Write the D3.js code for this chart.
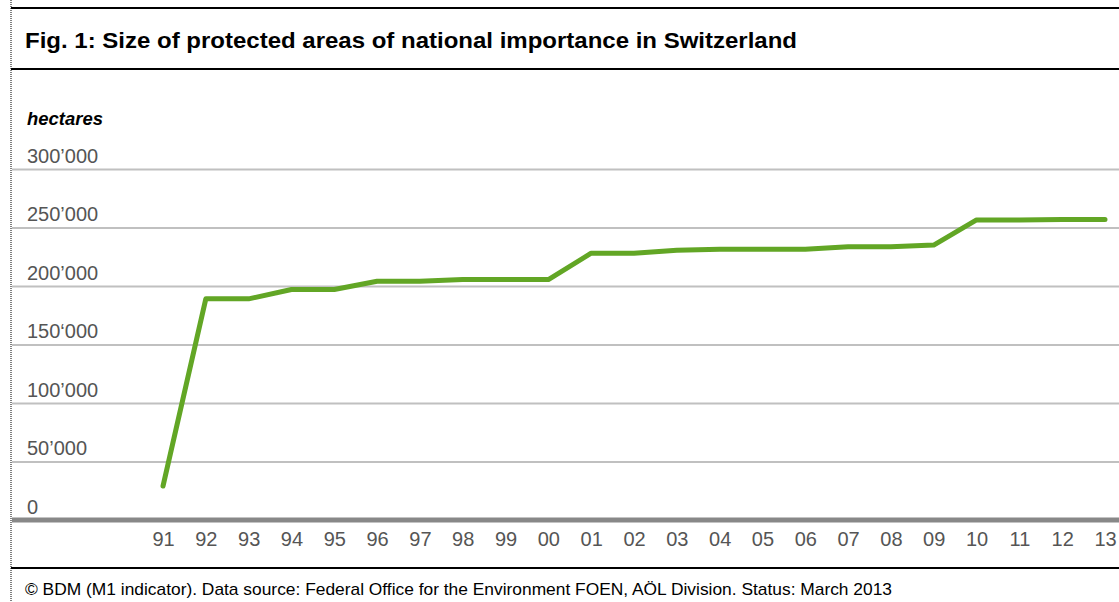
<!DOCTYPE html>
<html><head><meta charset="utf-8">
<script src="https://cdn.jsdelivr.net/npm/d3@7"></script>
<style>body{margin:0;background:#fff;}svg{display:block;font-family:"Liberation Sans",Arial,sans-serif;}</style>
</head><body>
<svg id="c" width="1119" height="602"></svg>
<script>
const years = ["91","92","93","94","95","96","97","98","99","00","01","02","03","04","05","06","07","08","09","10","11","12","13"];
const hectares = [29000,189000,189000,197000,197000,204000,204000,205500,205500,205500,228000,228000,230500,231500,231500,231500,233500,233500,235000,256500,256500,256800,256800];
const yTicks = [0,50000,100000,150000,200000,250000,300000];
const yTickLabels = ["0","50’000","100’000","150‘000","200’000","250’000","300’000"];
const title = "Fig. 1: Size of protected areas of national importance in Switzerland";
const unitLabel = "hectares";
const footer = "© BDM (M1 indicator). Data source: Federal Office for the Environment FOEN, AÖL Division. Status: March 2013";

const svg = d3.select("#c");
const W = 1119;
// frame
svg.append("line").attr("x1",11).attr("x2",11).attr("y1",0).attr("y2",602)
  .attr("stroke","#000").attr("stroke-width",1).attr("stroke-dasharray","1,1");
svg.append("line").attr("x1",11).attr("x2",W).attr("y1",8).attr("y2",8).attr("stroke","#000").attr("stroke-width",2);
svg.append("line").attr("x1",11).attr("x2",W).attr("y1",69).attr("y2",69).attr("stroke","#000").attr("stroke-width",2);
svg.append("line").attr("x1",11).attr("x2",W).attr("y1",568).attr("y2",568).attr("stroke","#000").attr("stroke-width",2);
svg.append("text").attr("x",25).attr("y",48).attr("font-size",22).attr("font-weight","bold").attr("fill","#000")
  .attr("textLength",772).attr("lengthAdjust","spacingAndGlyphs").text(title);
svg.append("text").attr("x",27).attr("y",125).attr("font-size",18).attr("font-weight","bold").attr("font-style","italic").attr("fill","#000")
  .attr("textLength",76).attr("lengthAdjust","spacingAndGlyphs").text(unitLabel);
svg.append("text").attr("x",25).attr("y",595).attr("font-size",17).attr("fill","#000")
  .attr("textLength",867).attr("lengthAdjust","spacingAndGlyphs").text(footer);

const x = d3.scalePoint().domain(years).range([163,1105]);
const y = d3.scaleLinear().domain([0,300000]).range([520,169]);

// gridlines
const yAxis = d3.axisLeft(y).tickValues(yTicks.slice(1)).tickSize(-(W-12)).tickFormat("");
const gy = svg.append("g").attr("transform",`translate(12,0)`).call(yAxis);
gy.select(".domain").remove();
gy.selectAll(".tick line").attr("stroke","#c0c0c0").attr("stroke-width",2).attr("x1",0).attr("x2",W-12);

// y labels
svg.append("g").selectAll("text").data(yTicks).join("text")
  .attr("x",27).attr("y",d=>y(d)-6.5).attr("font-size",20).attr("fill","#555")
  .text((d,i)=>yTickLabels[i]);

// x axis
const xAxis = d3.axisBottom(x).tickSize(0).tickPadding(0);
const gx = svg.append("g").attr("transform","translate(0,520)").call(xAxis);
gx.select(".domain").remove();
gx.selectAll(".tick text").attr("font-size",20).attr("fill","#555").attr("font-family","Liberation Sans, Arial, sans-serif").attr("dy",null).attr("y",26);
svg.append("line").attr("x1",12).attr("x2",W).attr("y1",520).attr("y2",520).attr("stroke","#888").attr("stroke-width",5);

// data line
const line = d3.line().x((d,i)=>x(years[i])).y(d=>y(d));
svg.append("path").datum(hectares).attr("d",line).attr("fill","none")
  .attr("stroke","#62a625").attr("stroke-width",5).attr("stroke-linejoin","round").attr("stroke-linecap","round");
</script>
</body></html>
